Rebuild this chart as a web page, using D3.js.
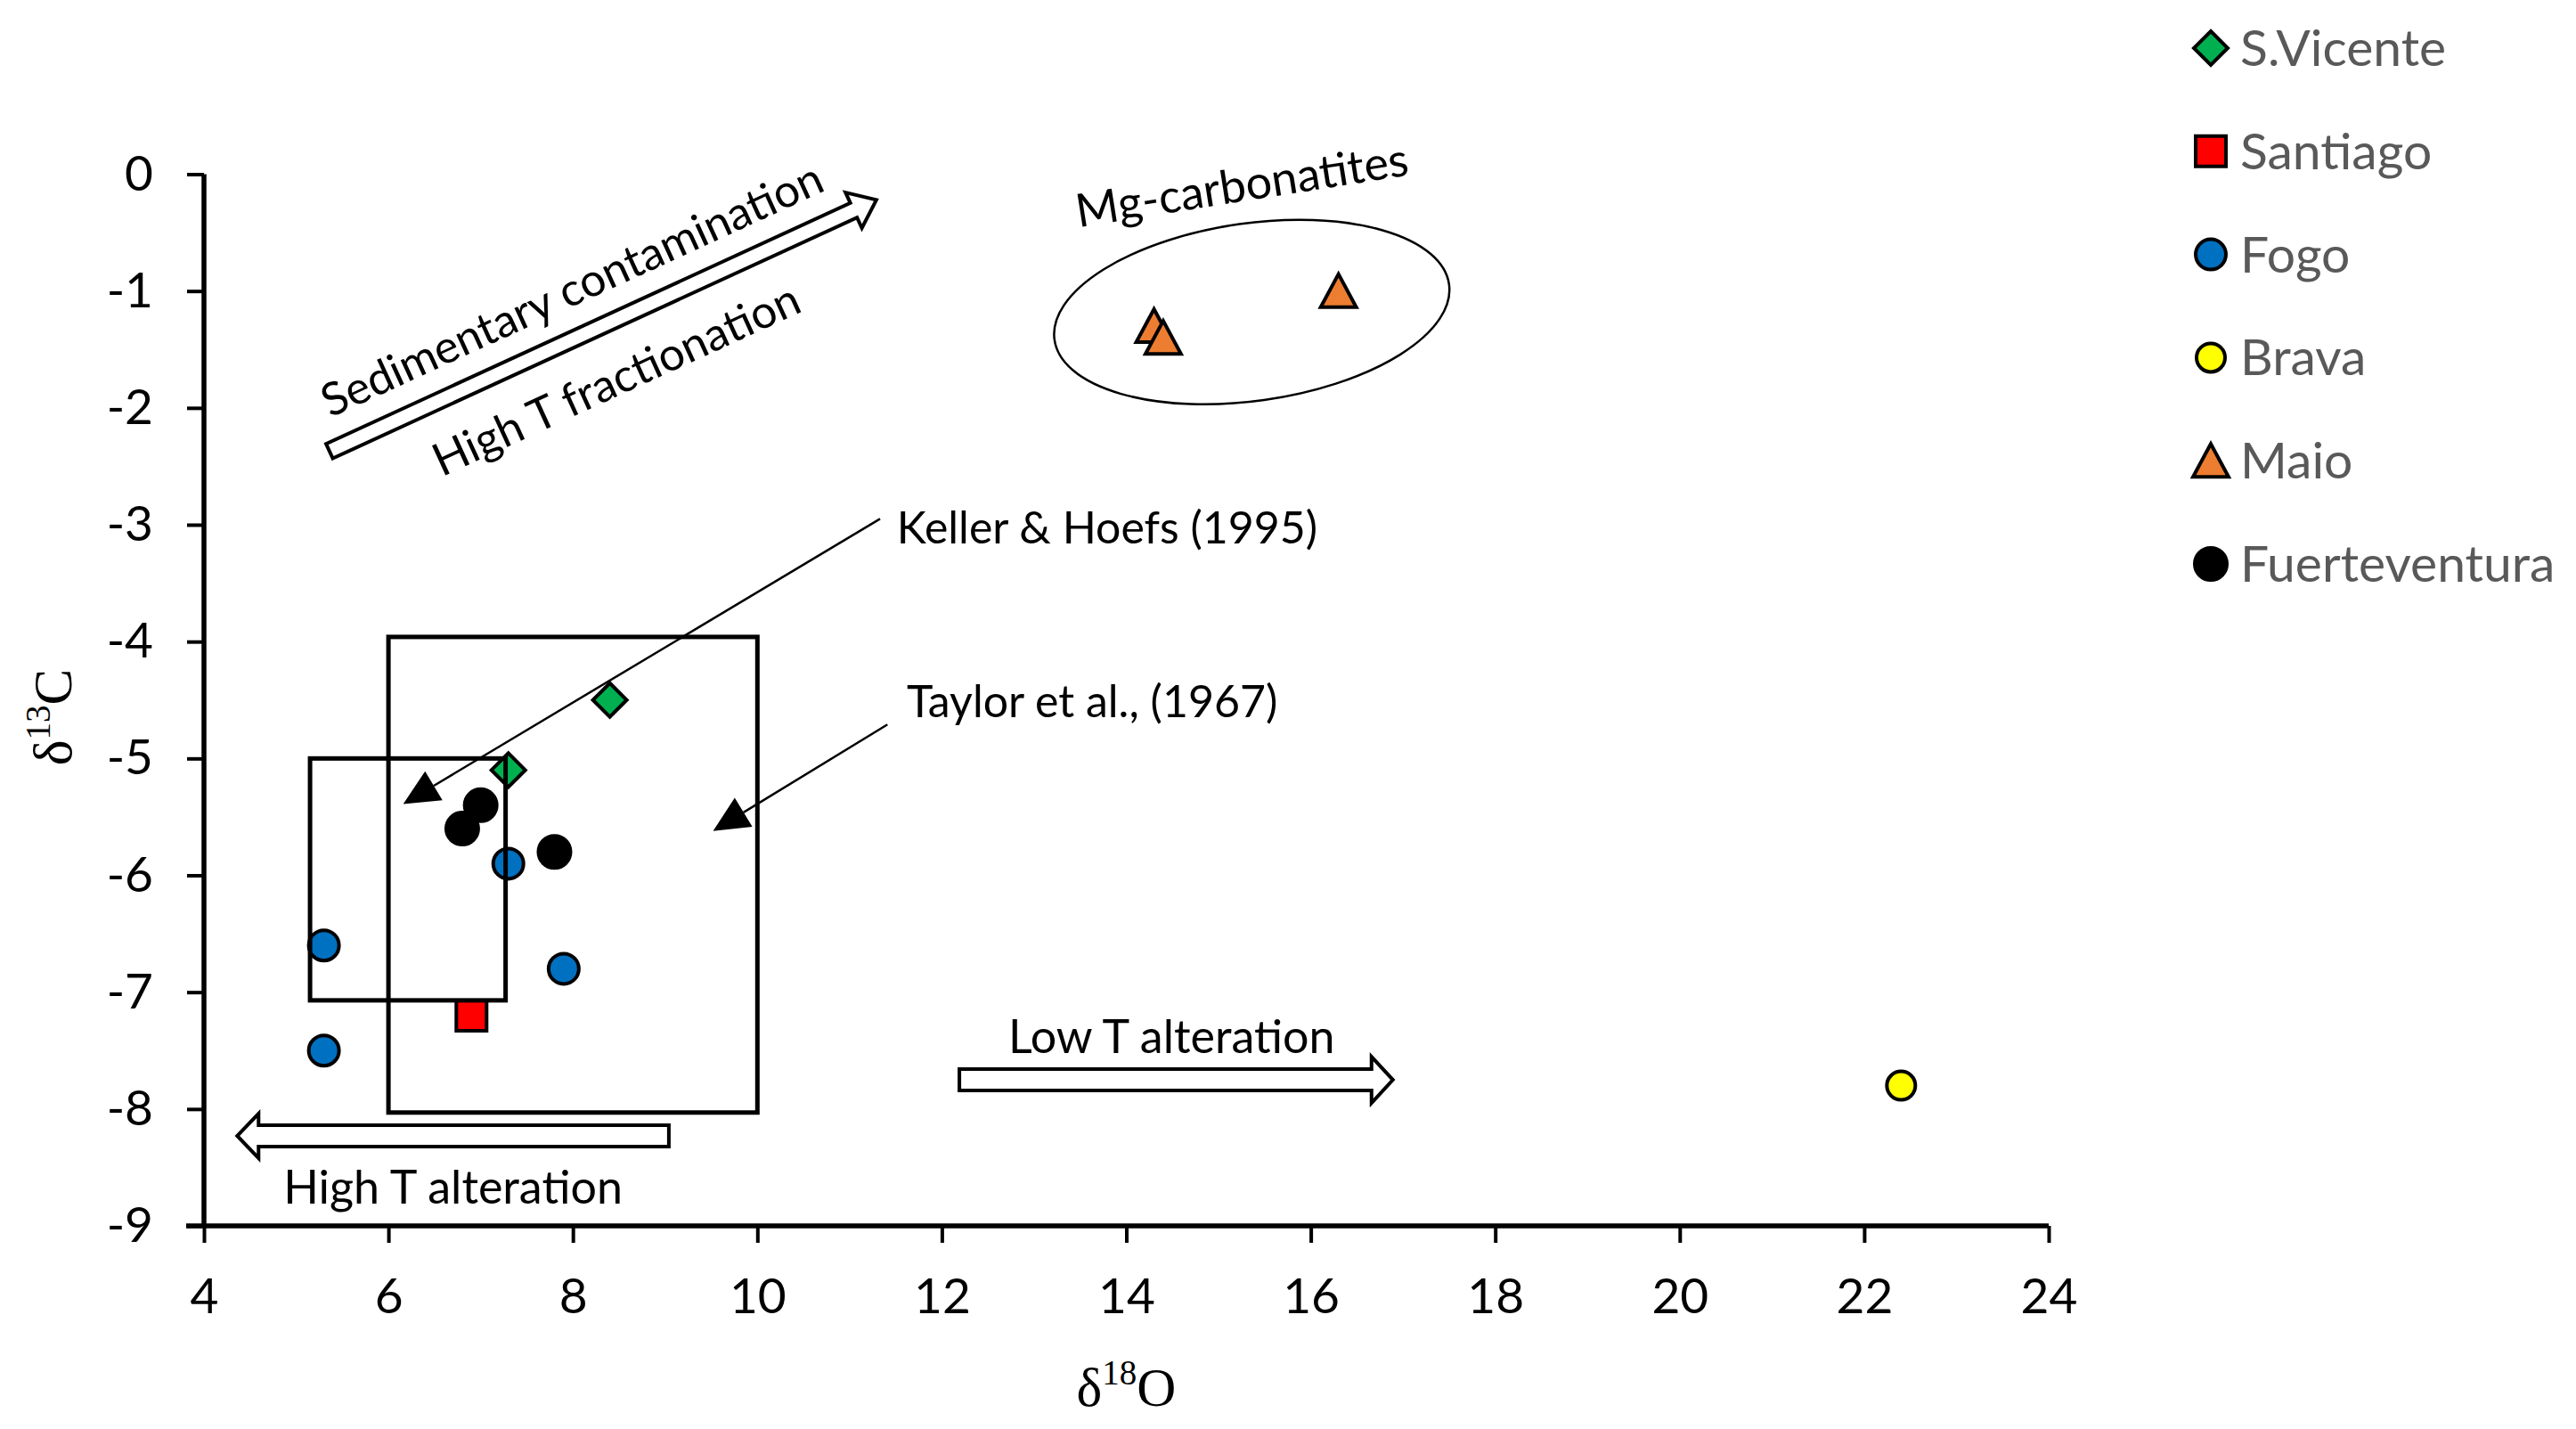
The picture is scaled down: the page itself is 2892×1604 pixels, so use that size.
<!DOCTYPE html>
<html><head><meta charset="utf-8">
<script src="https://cdn.jsdelivr.net/npm/d3@7"></script>
<style>
html,body{margin:0;padding:0;background:#fff;}
svg{display:block;}
</style></head><body>
<svg id="chart" width="2892" height="1604"></svg>
<script>
// ---------- data ----------
const xTicks = [4, 6, 8, 10, 12, 14, 16, 18, 20, 22, 24];
const yTicks = [0, -1, -2, -3, -4, -5, -6, -7, -8, -9];
const seriesNames = ["S.Vicente", "Santiago", "Fogo", "Brava", "Maio", "Fuerteventura"];
const sVicente = [[8.4, -4.5], [7.3, -5.1]];
const santiago = [[6.9, -7.2]];
const fogo = [[7.3, -5.9], [5.3, -6.6], [7.9, -6.8], [5.3, -7.5]];
const brava = [[22.4, -7.8]];
const maio = [[14.3, -1.3], [14.4, -1.4], [16.3, -1.0]];
const fuerteventura = [[7.0, -5.4], [6.8, -5.6], [7.8, -5.8]];

// reference fields (data units): [xmin, xmax, ymin, ymax]
const kellerBox = [5.15, 7.27, -7.07, -5.0];
const taylorBox = [6.0, 10.0, -8.03, -3.96];
// annotation anchors (data units)
const mgEllipse = [15.36, -1.18, 2.16, 0.76]; // cx, cy, rx, ry
const sedimentaryArrow = [[5.36, -2.37], [11.29, -0.22]]; // tail, tip
const lowTArrow = [[12.19, -7.75], [16.89, -7.75]];
const highTArrow = [[9.04, -8.23], [4.36, -8.23]];
const kellerLeader = [[11.33, -2.95], [6.16, -5.39]];
const taylorLeader = [[11.41, -4.71], [9.52, -5.62]];
const labels = [
  {text: "Keller & Hoefs (1995)", x: 11.51, y: -3.16},
  {text: "Taylor et al., (1967)", x: 11.62, y: -4.65},
  {text: "Low T alteration", x: 14.49, y: -7.52},
  {text: "High T alteration", x: 6.7, y: -8.81}
];

// ---------- setup ----------
const svg = d3.select("#chart");
const x = d3.scaleLinear().domain([4, 24]).range([229, 2300]);
const y = d3.scaleLinear().domain([-9, 0]).range([1376, 195.5]);
const FONT = "Lato, 'Open Sans', sans-serif";

const colors = {
  "S.Vicente": "#00B050", "Santiago": "#FF0000", "Fogo": "#0070C0",
  "Brava": "#FFFF00", "Maio": "#ED7D31", "Fuerteventura": "#000000"
};
const seriesData = {
  "S.Vicente": sVicente, "Santiago": santiago, "Fogo": fogo,
  "Brava": brava, "Maio": maio, "Fuerteventura": fuerteventura
};

// custom symbols (Excel-like, centred on bounding box)
const symDiamond = {draw(c, s) { const r = s; c.moveTo(0, -r); c.lineTo(r, 0); c.lineTo(0, r); c.lineTo(-r, 0); c.closePath(); }};
const symSquare = {draw(c, s) { c.rect(-s, -s, 2 * s, 2 * s); }};
const symCircle = {draw(c, s) { c.moveTo(s, 0); c.arc(0, 0, s, 0, 2 * Math.PI); }};
const symTriangle = {draw(c, s) { c.moveTo(0, -s); c.lineTo(s * 1.05, s * 0.95); c.lineTo(-s * 1.05, s * 0.95); c.closePath(); }};
const symbols = {
  "S.Vicente": [symDiamond, 19], "Santiago": [symSquare, 17], "Fogo": [symCircle, 17],
  "Brava": [symCircle, 16], "Maio": [symTriangle, 19], "Fuerteventura": [symCircle, 18]
};
function sym(name) { const [t, s] = symbols[name]; return d3.symbol().type(t).size(s)(); }

// ---------- axes ----------
const xAxis = d3.axisBottom(x).tickValues(xTicks).tickSize(19).tickSizeOuter(0).tickPadding(40).tickFormat(d => String(d));
const yAxis = d3.axisLeft(y).tickValues(yTicks).tickSize(19).tickSizeOuter(0).tickPadding(38).tickFormat(d => String(d));

const gx = svg.append("g").attr("transform", `translate(0,${y(-9)})`).call(xAxis);
const gy = svg.append("g").attr("transform", `translate(${x(4)},0)`).call(yAxis);
[gx, gy].forEach(g => {
  g.select(".domain").attr("stroke", "#000").attr("stroke-width", 5.5);
  g.selectAll(".tick line").attr("stroke", "#000").attr("stroke-width", 4);
  g.selectAll(".tick text").attr("fill", "#000").style("font-family", FONT).style("font-size", "55px");
});
gx.select(".domain").attr("d", `M${x(4) - 20},0H${x(24)}`);
gy.select(".domain").attr("d", `M0,${y(0)}V${y(-9)}`);

// axis titles
const SERIF = "'Liberation Serif', 'DejaVu Serif', serif";
const xt = svg.append("text").attr("x", (x(4) + x(24)) / 2).attr("y", 1578)
  .attr("text-anchor", "middle").style("font-family", SERIF).style("font-size", "61px").attr("fill", "#000");
xt.append("tspan").text("δ");
xt.append("tspan").attr("dy", -24).style("font-size", "39px").text("18");
xt.append("tspan").attr("dy", 24).text("O");

const yt = svg.append("text").attr("transform", `translate(80,805) rotate(-90)`)
  .attr("text-anchor", "middle").style("font-family", SERIF).style("font-size", "61px").attr("fill", "#000");
yt.append("tspan").text("δ");
yt.append("tspan").attr("dy", -24).style("font-size", "39px").text("13");
yt.append("tspan").attr("dy", 24).text("C");

// ---------- points ----------
const pts = svg.append("g");
seriesNames.forEach(name => {
  pts.selectAll(null).data(seriesData[name]).enter().append("path")
    .attr("d", sym(name))
    .attr("transform", d => `translate(${x(d[0])},${y(d[1])})`)
    .attr("fill", colors[name]).attr("stroke", "#000").attr("stroke-width", 4).attr("stroke-linejoin", "miter");
});

// ---------- reference boxes ----------
const ann = svg.append("g");
[kellerBox, taylorBox].forEach(b => {
  ann.append("rect").attr("x", x(b[0])).attr("y", y(b[3]))
    .attr("width", x(b[1]) - x(b[0])).attr("height", y(b[2]) - y(b[3]))
    .attr("fill", "none").attr("stroke", "#000").attr("stroke-width", 5);
});

// ellipse
ann.append("ellipse")
  .attr("cx", 0).attr("cy", 0)
  .attr("rx", x(mgEllipse[0] + mgEllipse[2]) - x(mgEllipse[0]))
  .attr("ry", y(mgEllipse[1] - mgEllipse[3]) - y(mgEllipse[1]))
  .attr("transform", `translate(${x(mgEllipse[0])},${y(mgEllipse[1])}) rotate(-8)`)
  .attr("fill", "none").attr("stroke", "#000").attr("stroke-width", 2.5);

// block arrows
function blockArrow(a, bodyW, headW, headL) {
  const x0 = x(a[0][0]), y0 = y(a[0][1]), x1 = x(a[1][0]), y1 = y(a[1][1]);
  const L = Math.hypot(x1 - x0, y1 - y0), ux = (x1 - x0) / L, uy = (y1 - y0) / L;
  const nx = -uy, ny = ux;
  const bx = x1 - ux * headL, by = y1 - uy * headL;
  const p = [
    [x0 + nx * bodyW / 2, y0 + ny * bodyW / 2],
    [bx + nx * bodyW / 2, by + ny * bodyW / 2],
    [bx + nx * headW / 2, by + ny * headW / 2],
    [x1, y1],
    [bx - nx * headW / 2, by - ny * headW / 2],
    [bx - nx * bodyW / 2, by - ny * bodyW / 2],
    [x0 - nx * bodyW / 2, y0 - ny * bodyW / 2]
  ];
  ann.append("path").attr("d", "M" + p.map(q => q.join(",")).join("L") + "Z")
    .attr("fill", "#fff").attr("stroke", "#000").attr("stroke-width", 4).attr("stroke-linejoin", "miter");
  return Math.atan2(y1 - y0, x1 - x0) * 180 / Math.PI;
}
const sedAngle = blockArrow(sedimentaryArrow, 18, 44, 28);
blockArrow(lowTArrow, 24, 52, 24);
blockArrow(highTArrow, 24, 50, 24);

// leader lines with triangular heads
function leader(a, headL, headW) {
  const x0 = x(a[0][0]), y0 = y(a[0][1]), x1 = x(a[1][0]), y1 = y(a[1][1]);
  const L = Math.hypot(x1 - x0, y1 - y0), ux = (x1 - x0) / L, uy = (y1 - y0) / L;
  const nx = -uy, ny = ux;
  const bx = x1 - ux * headL, by = y1 - uy * headL;
  ann.append("line").attr("x1", x0).attr("y1", y0).attr("x2", bx).attr("y2", by)
    .attr("stroke", "#000").attr("stroke-width", 2.5);
  ann.append("path").attr("d", `M${x1},${y1}L${bx + nx * headW / 2},${by + ny * headW / 2}L${bx - nx * headW / 2},${by - ny * headW / 2}Z`)
    .attr("fill", "#000");
}
leader(kellerLeader, 40, 38);
leader(taylorLeader, 40, 38);

// text labels
const tstyle = (s, fs) => s.style("font-family", FONT).style("font-size", (fs || 52) + "px").attr("fill", "#000");
labels.forEach((l, i) => {
  const t = ann.append("text").attr("x", x(l.x)).attr("y", y(l.y)).text(l.text).call(tstyle, i < 2 ? 50 : 52);
  if (i >= 2) t.attr("text-anchor", "middle");
});
// rotated labels along the sedimentary arrow and ellipse
ann.append("text").attr("transform", `translate(${x(8.06)},${y(-1.11)}) rotate(${sedAngle})`)
  .attr("text-anchor", "middle").text("Sedimentary contamination").call(tstyle, 51);
ann.append("text").attr("transform", `translate(${x(8.54)},${y(-1.88)}) rotate(${sedAngle})`)
  .attr("text-anchor", "middle").text("High T fractionation").call(tstyle, 51);
ann.append("text").attr("transform", `translate(${x(15.28)},${y(-0.23)}) rotate(-9)`)
  .attr("text-anchor", "middle").text("Mg-carbonatites").call(tstyle, 52);

// ---------- legend ----------
const lg = svg.append("g").attr("transform", "translate(2482,54)");
seriesNames.forEach((name, i) => {
  const row = lg.append("g").attr("transform", `translate(0,${i * 115.8})`);
  row.append("path").attr("d", sym(name)).attr("fill", colors[name]).attr("stroke", "#000").attr("stroke-width", 4);
  row.append("text").attr("x", 33).attr("y", 20).text(name)
    .style("font-family", FONT).style("font-size", "57px").attr("fill", "#595959");
});
</script>
</body></html>
